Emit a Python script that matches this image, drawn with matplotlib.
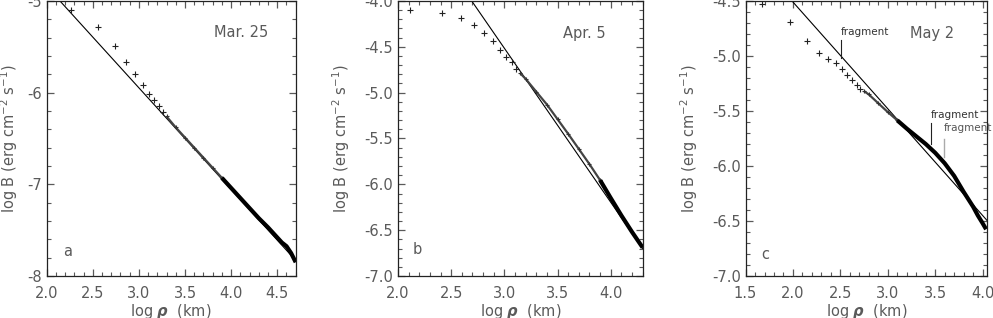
import numpy as np
import matplotlib
matplotlib.use("Agg")
from matplotlib import pyplot as plt
from matplotlib.ticker import MultipleLocator, FormatStrFormatter

# panel a - Mar. 25
a_pts_x = [2.26, 2.56, 2.74, 2.86, 2.96, 3.04, 3.105, 3.163, 3.214, 3.26]
a_pts_y = [-5.10, -5.28, -5.49, -5.665, -5.80, -5.92, -6.01, -6.08, -6.15, -6.21]
a_tail_x = [3.3, 3.4, 3.5, 3.6, 3.7, 3.8, 3.9, 4.0, 4.1, 4.2, 4.3, 4.4, 4.5, 4.55, 4.6, 4.65, 4.7]
a_tail_y = [-6.26, -6.38, -6.49, -6.60, -6.71, -6.82, -6.93, -7.04, -7.15, -7.26, -7.37, -7.47,
            -7.58, -7.635, -7.675, -7.75, -7.85]
a_fit_x = [2.144, 4.7]
a_fit_y = [-5.0, -7.83]

# panel b - Apr. 5
b_pts_x = [2.113, 2.414, 2.59, 2.715, 2.81, 2.89, 2.958, 3.016, 3.067, 3.113]
b_pts_y = [-4.098, -4.134, -4.19, -4.26, -4.35, -4.44, -4.53, -4.61, -4.67, -4.74]
b_tail_x = [3.15, 3.2, 3.3, 3.4, 3.5, 3.6, 3.7, 3.8, 3.9, 4.0, 4.1, 4.2, 4.3]
b_tail_y = [-4.79, -4.85, -4.99, -5.13, -5.29, -5.45, -5.615, -5.78, -5.955, -6.15, -6.34,
            -6.52, -6.69]
b_fit_x = [2.693, 4.3]
b_fit_y = [-4.0, -6.70]

# panel c - May 2
c_pts_x = [1.671, 1.972, 2.148, 2.273, 2.37, 2.45, 2.516, 2.574, 2.625, 2.671, 2.712]
c_pts_y = [-4.527, -4.688, -4.864, -4.976, -5.03, -5.066, -5.12, -5.173, -5.218, -5.264, -5.30]
c_tail_x = [2.75, 2.8, 2.9, 3.0, 3.1, 3.2, 3.3, 3.4, 3.45, 3.5, 3.6, 3.7, 3.8, 3.9, 3.95,
            4.0, 4.037]
c_tail_y = [-5.32, -5.35, -5.43, -5.51, -5.585, -5.66, -5.73, -5.80, -5.84, -5.88, -5.975,
            -6.09, -6.235, -6.37, -6.45, -6.52, -6.575]
c_fit_x = [1.99, 4.05]
c_fit_y = [-4.5, -6.498]

grey = "#5a5a5a"
plt.rcParams["font.family"] = "DejaVu Sans"
plt.rcParams["font.size"] = 10

fig = plt.figure(figsize=(9.93, 3.18), dpi=100)

panels = [
    dict(rect=[0.047, 0.132, 0.2508, 0.865], xlim=(2.0, 4.7), ylim=(-8, -5), ymaj=1, ymin=0.2,
         yfmt="%d", px=a_pts_x, py=a_pts_y, tx=a_tail_x, ty=a_tail_y, fx=a_fit_x, fy=a_fit_y,
         thick_from=3.9, date="Mar. 25", dxy=(4.107, -5.34), lab="a", lxy=(2.23, -7.735),
         ylab_x=-0.108),
    dict(rect=[0.4008, 0.132, 0.2464, 0.865], xlim=(2.0, 4.3), ylim=(-7, -4), ymaj=0.5, ymin=0.1,
         yfmt="%.1f", px=b_pts_x, py=b_pts_y, tx=b_tail_x, ty=b_tail_y, fx=b_fit_x, fy=b_fit_y,
         thick_from=3.9, date="Apr. 5", dxy=(3.748, -4.353), lab="b", lxy=(2.18, -6.71),
         ylab_x=-0.188),
    dict(rect=[0.7508, 0.132, 0.2435, 0.865], xlim=(1.5, 4.05), ylim=(-7, -4.5), ymaj=0.5,
         ymin=0.1, yfmt="%.1f", px=c_pts_x, py=c_pts_y, tx=c_tail_x, ty=c_tail_y, fx=c_fit_x,
         fy=c_fit_y, thick_from=3.1, date="May 2", dxy=(3.464, -4.794), lab="c",
         lxy=(1.706, -6.80), ylab_x=-0.188),
]

for p in panels:
    ax = fig.add_axes(p["rect"])
    ax.plot(p["fx"], p["fy"], color="black", lw=0.8)
    ax.plot(p["px"], p["py"], ls="none", marker="+", ms=3.8, mew=0.8, color="#222222")
    tx = np.array(p["tx"])
    ty = np.array(p["ty"])
    thin = tx <= p["thick_from"]
    ax.plot(tx[thin], ty[thin], color="#444444", lw=1.6, solid_capstyle="butt")
    ax.plot(tx[thin], ty[thin], ls="none", marker="+", ms=3.5, mew=0.8, color="#333333")
    thick = tx >= p["thick_from"]
    ax.plot(tx[thick], ty[thick], color="black", lw=3.0, solid_capstyle="butt")

    ax.set_xlim(*p["xlim"])
    ax.set_ylim(*p["ylim"])
    ax.xaxis.set_major_locator(MultipleLocator(0.5))
    ax.xaxis.set_minor_locator(MultipleLocator(0.1))
    ax.xaxis.set_major_formatter(FormatStrFormatter("%.1f"))
    ax.yaxis.set_major_locator(MultipleLocator(p["ymaj"]))
    ax.yaxis.set_minor_locator(MultipleLocator(p["ymin"]))
    ax.yaxis.set_major_formatter(FormatStrFormatter(p["yfmt"]))
    ax.tick_params(which="both", direction="in", top=True, right=True, color=grey,
                   labelcolor=grey, labelsize=10.5)
    ax.tick_params(which="major", length=5, width=0.9)
    ax.tick_params(which="minor", length=2.6, width=0.8)
    ax.tick_params(axis="x", pad=7.5)
    ax.tick_params(axis="y", pad=3.5)
    for s in ax.spines.values():
        s.set_linewidth(0.9)
        s.set_color("#222222")

    ax.set_xlabel(r"log $\boldsymbol{\rho}$  (km)", color=grey, fontsize=10.5)
    ax.xaxis.set_label_coords(0.5, -0.095)
    ax.set_ylabel(r"log B (erg cm$^{-2}$ s$^{-1}$)", color=grey, fontsize=10.5)
    ax.yaxis.set_label_coords(p["ylab_x"], 0.5)

    ax.text(p["dxy"][0], p["dxy"][1], p["date"], ha="center", va="center", color=grey,
            fontsize=10.5)
    ax.text(p["lxy"][0], p["lxy"][1], p["lab"], ha="center", va="center", color=grey,
            fontsize=10.5)

    if p["lab"] == "c":
        # fragment markers
        ax.plot([2.507, 2.507], [-4.855, -5.018], color="#222222", lw=0.8)
        ax.text(2.507, -4.78, "fragment", ha="left", va="center", fontsize=7.5, color="#333333")
        ax.plot([3.454, 3.454], [-5.61, -5.80], color="#222222", lw=0.8)
        ax.text(3.454, -5.536, "fragment", ha="left", va="center", fontsize=7.5, color="#333333")
        ax.plot([3.594, 3.594], [-5.755, -5.918], color="#aaaaaa", lw=1.0)
        ax.text(3.594, -5.655, "fragment", ha="left", va="center", fontsize=7.5, color="#555555")

fig.savefig("out.png", dpi=100)
